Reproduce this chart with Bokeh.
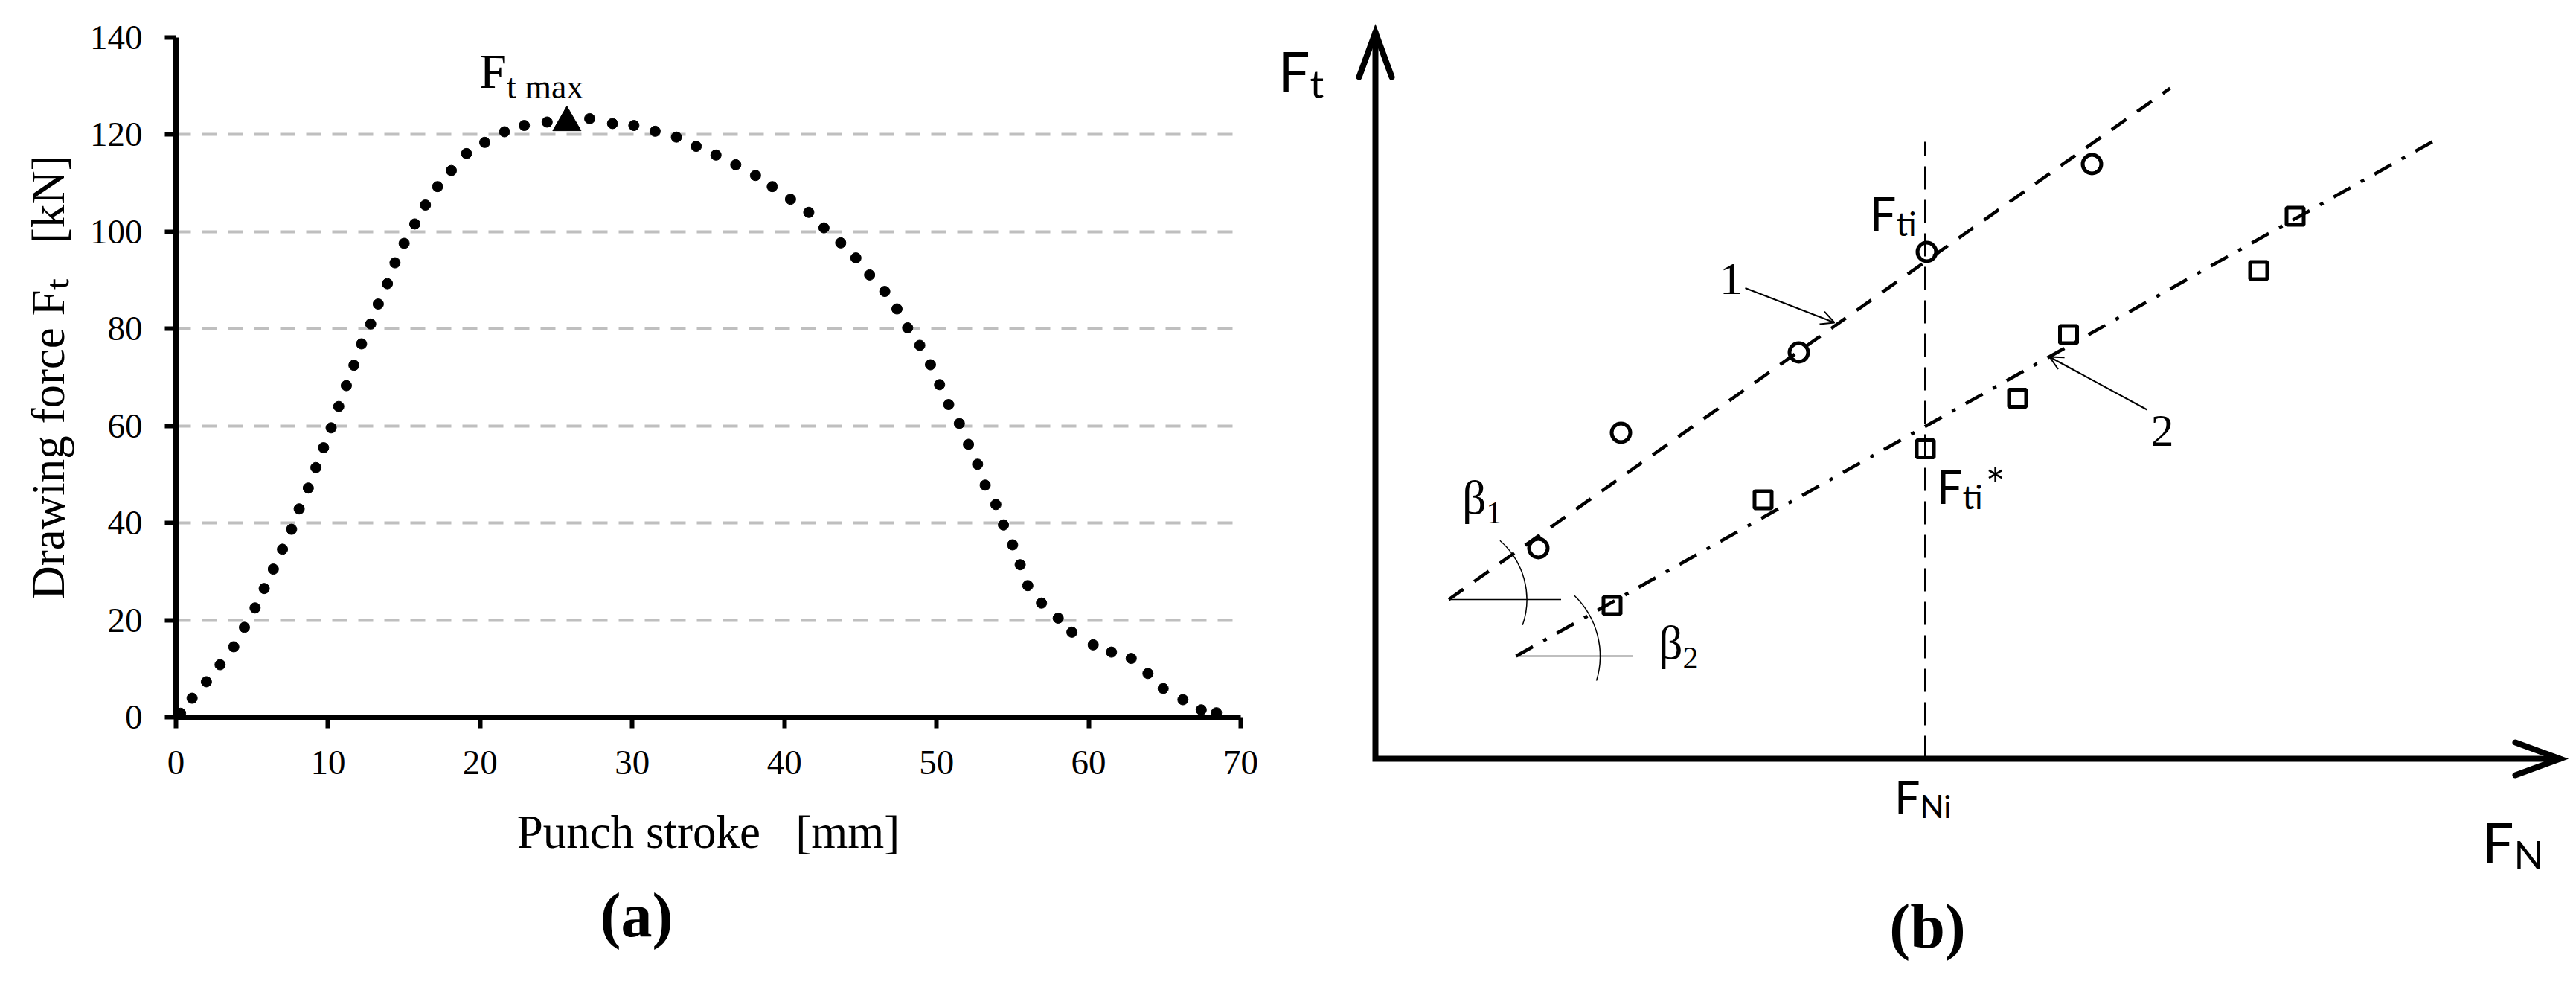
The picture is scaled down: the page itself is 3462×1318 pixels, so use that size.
from bokeh.plotting import figure
from bokeh.layouts import row
from bokeh.models import Range1d, Label, Arrow, OpenHead, FixedTicker, Title
from bokeh.core.properties import value
from bokeh.embed import file_html
from bokeh.resources import INLINE

# ---------------- data: panel (a) ----------------
stroke_mm = [0.3, 1.06, 2.0, 2.9, 3.8, 4.5, 5.2, 5.8, 6.4, 7.0, 7.6, 8.1, 8.7, 9.2, 9.7,
             10.2, 10.7, 11.2, 11.7, 12.2, 12.8, 13.3, 13.9, 14.4, 15.0, 15.7, 16.4, 17.2,
             18.1, 19.1, 20.3, 21.6, 22.9, 24.4, 27.2, 28.7, 30.1, 31.5, 32.9, 34.2, 35.5,
             36.8, 38.1, 39.2, 40.4, 41.6, 42.6, 43.7, 44.7, 45.6, 46.6, 47.4, 48.1, 48.9,
             49.6, 50.2, 50.8, 51.5, 52.1, 52.7, 53.2, 53.9, 54.4, 55.0, 55.5, 56.0, 56.9,
             58.0, 58.9, 60.3, 61.5, 62.8, 63.9, 64.9, 66.2, 67.4, 68.4]
force_kN = [0.8, 3.9, 7.3, 10.8, 14.5, 18.5, 22.5, 26.5, 30.5, 34.6, 38.7, 42.9, 47.2, 51.4, 55.5,
            59.6, 64.0, 68.3, 72.5, 76.9, 81.0, 85.1, 89.3, 93.6, 97.6, 101.6, 105.5, 109.3,
            112.6, 116.1, 118.4, 120.6, 121.9, 122.6, 123.3, 122.3, 121.9, 120.7, 119.5, 117.6, 115.8,
            113.8, 111.6, 109.3, 106.7, 104.0, 100.8, 97.7, 94.6, 91.1, 87.7, 84.1, 80.2, 76.6,
            72.6, 68.5, 64.4, 60.5, 56.2, 52.1, 47.8, 43.8, 39.6, 35.5, 31.4, 27.1, 23.5,
            20.4, 17.5, 14.9, 13.4, 12.1, 9.0, 5.9, 3.6, 1.5, 0.9]
peak_stroke = [25.7]
peak_force = [122.5]
x_ticks = [0, 10, 20, 30, 40, 50, 60, 70]
y_ticks = [0, 20, 40, 60, 80, 100, 120, 140]

# ---------------- data: panel (b) (schematic, arbitrary units) ----------------
circles_FN = [21.9, 33.0, 56.9, 74.1, 96.3]
circles_Ft = [28.3, 43.8, 54.6, 68.1, 79.9]
squares_FN = [31.8, 52.1, 73.9, 86.3, 93.15, 118.7, 123.6]
squares_Ft = [20.6, 34.8, 41.65, 48.45, 57.0, 65.6, 72.9]
fit1_FN = [9.85, 106.8]
fit1_Ft = [21.4, 90.1]
fit2_FN = [18.9, 142.2]
fit2_Ft = [13.8, 83.0]
FNi = 73.9
FNi_top = 82.9
axis_FN_end = 159.2
axis_Ft_end = 97.6

SERIF = "Liberation Serif"
SANS = "Lato"
# vertical shift (fraction of font size) from text centre to alphabetic baseline
BASE_SHIFT = {SERIF: 0.3375, SANS: 0.387}

# ================= panel (a) =================
pa = figure(width=1700, height=1316, x_range=Range1d(0, 70), y_range=Range1d(0, 140),
            output_backend="svg", toolbar_location=None,
            min_border_left=236, min_border_right=33, min_border_top=50, min_border_bottom=353)
pa.frame_align = False
pa.outline_line_color = None
pa.background_fill_color = "white"
pa.border_fill_color = "white"
pa.xgrid.visible = False
pa.ygrid.grid_line_color = "#bfbfbf"
pa.ygrid.grid_line_width = 4
pa.ygrid.grid_line_dash = "20 15"
pa.xaxis.ticker = FixedTicker(ticks=x_ticks)
pa.yaxis.ticker = FixedTicker(ticks=y_ticks)
for ax in (pa.xaxis[0], pa.yaxis[0]):
    ax.axis_line_width = 7
    ax.axis_line_color = "black"
    ax.major_tick_line_width = 6
    ax.major_tick_line_color = "black"
    ax.major_tick_out = 15
    ax.major_tick_in = 0
    ax.minor_tick_out = 0
    ax.minor_tick_in = 0
    ax.major_label_text_font = SERIF
    ax.major_label_text_font_size = "47px"
    ax.major_label_text_color = "black"
    ax.major_label_standoff = 30
    ax.axis_label_text_font = SERIF
    ax.axis_label_text_font_size = "63px"
    ax.axis_label_text_font_style = "normal"
    ax.axis_label_text_color = "black"
pa.xaxis.axis_label = "Punch stroke \u00a0 [mm]"
pa.xaxis.axis_label_standoff = 40
pa.yaxis.axis_label = "Drawing force F\u209c \u00a0 [kN]"
pa.yaxis.axis_label_standoff = 18

pa.scatter(stroke_mm, force_kN, marker="circle", size=14, color="black")
pa.scatter(peak_stroke, peak_force, marker="triangle", size=38, color="black")
pa.text(x=peak_stroke, y=peak_force, text=["F"], x_offset=-81, y_offset=-47 - BASE_SHIFT[SERIF] * 66,
        text_align="right", text_baseline="alphabetic",
        text_font=value(SERIF), text_font_size="66px", text_color="black")
pa.text(x=peak_stroke, y=peak_force, text=["t max"], x_offset=-81, y_offset=-33 - BASE_SHIFT[SERIF] * 46,
        text_align="left", text_baseline="alphabetic",
        text_font=value(SERIF), text_font_size="46px", text_color="black")
pa.add_layout(Title(text="(a)", align="left", offset=570, standoff=50,
                    text_font=SERIF, text_font_style="bold", text_font_size="84px",
                    text_color="black"), "below")

# ================= panel (b) =================
pb = figure(width=1760, height=1316, x_range=Range1d(-14.8, 161.2), y_range=Range1d(-29.7, 101.9),
            x_axis_location=None, y_axis_location=None, min_border=0,
            output_backend="svg", toolbar_location=None)
pb.frame_align = False
pb.outline_line_color = None
pb.grid.visible = False
pb.background_fill_color = "white"
pb.border_fill_color = "white"

# axes with arrow heads
head_len, head_half = 6.0, 2.2
pb.multi_line(
    xs=[[0, 0, axis_FN_end],
        [-head_half, 0, head_half],
        [axis_FN_end - head_len, axis_FN_end, axis_FN_end - head_len]],
    ys=[[axis_Ft_end, 0, 0],
        [axis_Ft_end - head_len, axis_Ft_end, axis_Ft_end - head_len],
        [head_half, 0, -head_half]],
    line_width=8, line_color="black", line_join="miter", line_cap="round")

# vertical dashed line at F_Ni
pb.line([FNi, FNi], [0, FNi_top], line_width=3, line_color="black", line_dash="31 14")
# fitted lines 1 and 2
pb.line(fit1_FN, fit1_Ft, line_width=4.5, line_color="black", line_dash="24 18")
pb.line(fit2_FN, fit2_Ft, line_width=4.5, line_color="black", line_dash="26 16 5 16")

# angle construction (beta1, beta2)
pb.line([fit1_FN[0], fit1_FN[0] + 15.1], [fit1_Ft[0], fit1_Ft[0]], line_width=1.5, line_color="black")
pb.line([fit2_FN[0], fit2_FN[0] + 15.7], [fit2_Ft[0], fit2_Ft[0]], line_width=1.5, line_color="black")
pb.arc(x=[fit1_FN[0], fit2_FN[0]], y=[fit1_Ft[0], fit2_Ft[0]], radius=[10.5, 11.3],
       start_angle=[-19, -17], end_angle=[49, 46],
       start_angle_units="deg", end_angle_units="deg", direction="anticlock",
       line_width=1.5, line_color="black")

# measured points
pb.scatter(circles_FN, circles_Ft, marker="circle", size=25, fill_alpha=0,
           line_color="black", line_width=5)
pb.scatter(squares_FN, squares_Ft, marker="square", size=23, fill_alpha=0,
           line_color="black", line_width=5)

# leader arrows for labels 1 and 2
pb.add_layout(Arrow(x_start=49.7, y_start=63.25, x_end=61.7, y_end=58.6, line_width=2,
                    line_color="black", end=OpenHead(size=18, line_width=2, line_color="black")))
pb.add_layout(Arrow(x_start=103.7, y_start=46.9, x_end=90.6, y_end=54.0, line_width=2,
                    line_color="black", end=OpenHead(size=18, line_width=2, line_color="black")))


def put_text(p, x, y, txt, size, font, align):
    p.text(x=[x], y=[y], text=[txt], text_align=align, text_baseline="alphabetic",
           y_offset=-BASE_SHIFT[font] * size,
           text_font=value(font), text_font_size=f"{size}px", text_color="black")


def sub_label(p, x, y_main, y_sub, main, sub, main_size, sub_size, font):
    put_text(p, x, y_main, main, main_size, font, "right")
    put_text(p, x, y_sub, sub, sub_size, font, "left")


sub_label(pb, -8.8, 89.6, 88.7, "F", "t", 76, 52, SANS)
sub_label(pb, 153.0, -14.0, -14.9, "F", "N", 76, 52, SANS)
sub_label(pb, 73.2, -7.5, -8.0, "F", "Ni", 61, 42, SANS)
sub_label(pb, 70.0, 70.9, 70.2, "F", "ti", 63, 44, SANS)
sub_label(pb, 78.9, 34.2, 33.5, "F", "ti", 61, 44, SANS)
put_text(pb, 82.0, 34.6, "*", 62, SANS, "left")

sub_label(pb, 14.9, 32.9, 31.6, "\u03b2", "1", 64, 42, SERIF)
sub_label(pb, 41.3, 13.4, 12.1, "\u03b2", "2", 64, 42, SERIF)

put_text(pb, 47.8, 62.4, "1", 62, SERIF, "center")
put_text(pb, 105.75, 42.0, "2", 62, SERIF, "center")

pb.add_layout(Label(x=74.2, y=-25.3 + BASE_SHIFT[SERIF] * 84 / 10, text="(b)", text_align="center",
                    text_baseline="alphabetic",
                    text_font=SERIF, text_font_style="bold", text_font_size="84px",
                    text_color="black"))

layout = row(pa, pb, spacing=0)
open("out.html", "w").write(file_html(layout, INLINE))
